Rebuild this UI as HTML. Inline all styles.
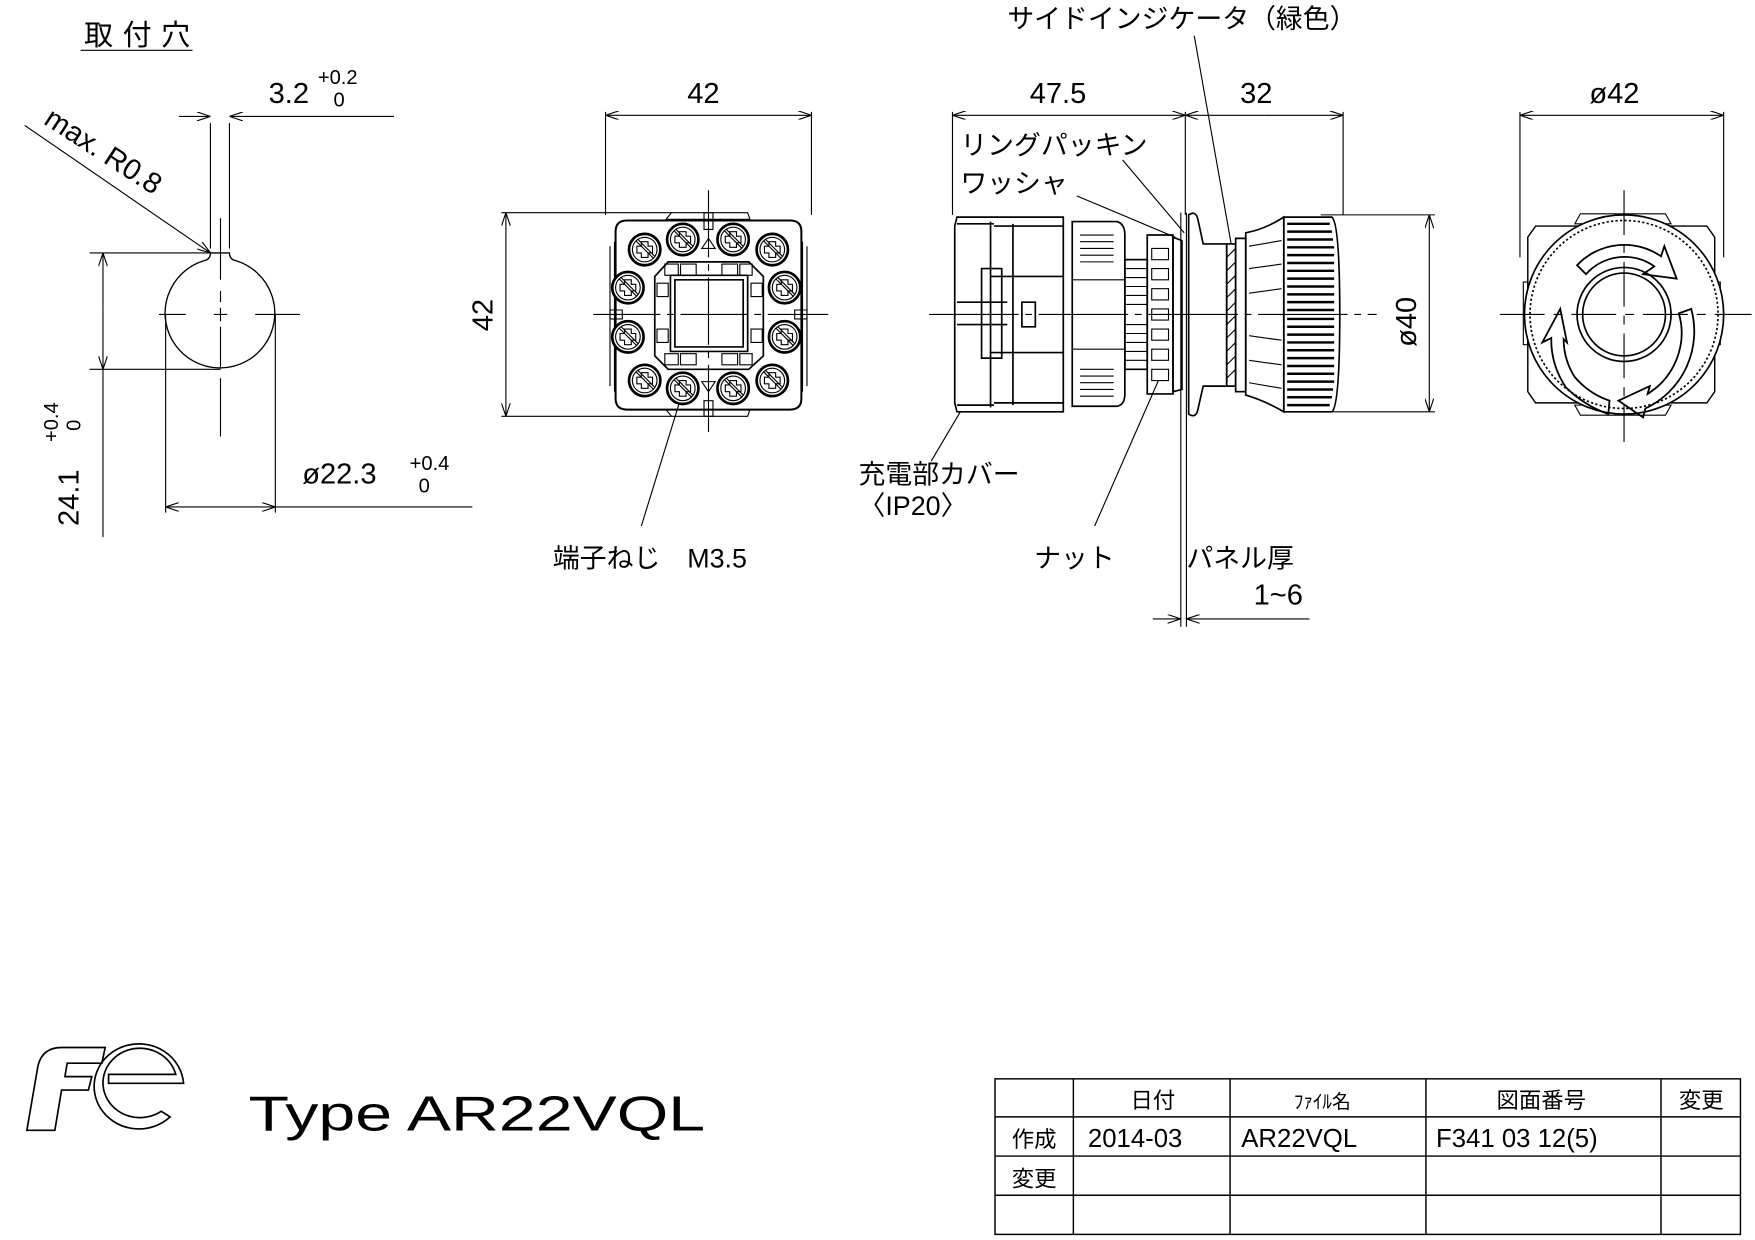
<!DOCTYPE html>
<html><head><meta charset="utf-8"><style>
html,body{margin:0;padding:0;background:#fff;}
svg{display:block}
text{font-family:"Liberation Sans","Noto Sans CJK JP",sans-serif;fill:#000;}
</style></head><body>
<svg width="1755" height="1240" viewBox="0 0 1568 1108" preserveAspectRatio="none" xmlns="http://www.w3.org/2000/svg">
<defs>
<marker id="a" viewBox="0 0 12 8" refX="12" refY="4" markerWidth="12" markerHeight="8" orient="auto-start-reverse" markerUnits="userSpaceOnUse"><path d="M0,0 L12,4 L0,8" fill="none" stroke="#000" stroke-width="1"/></marker>
<g id="scr"><circle r="14" fill="#fff" stroke="#000" stroke-width="2.4"/><circle r="11" fill="none" stroke="#000" stroke-width="1"/><path d="M-3,-7 L3,-7 L3,-3 L7,-3 L7,3 L3,3 L3,7 L-3,7 L-3,3 L-7,3 L-7,-3 L-3,-3Z" fill="none" stroke="#000" stroke-width="1"/><path d="M-8,-8 L8,8 M-6,-9 L9,6" stroke="#000" stroke-width="1"/></g>
</defs>
<g fill="none" stroke="#000" stroke-width="1">
<!-- View 1 -->
<line x1="72" y1="45" x2="172" y2="45"/>
<path d="M188,222 L188,110 M205,222 L205,110"/>
<path d="M188,226 Q188,232 182,233 A49,49 0 1 0 211,233 Q205,232 205,226 Z" stroke-width="1.2"/>
<line x1="160" y1="104" x2="188" y2="104" marker-end="url(#a)"/>
<line x1="352" y1="104" x2="205" y2="104" marker-end="url(#a)"/>
<path d="M142,281 L166,281 M191,281 L203,281 M197,275 L197,287 M228,281 L268,281 M197,195 L197,250 M197,260 L197,270 M197,292 L197,328 M197,338 L197,390"/>
<path d="M80,226 L190,226 M80,330 L197,330"/>
<line x1="92" y1="278" x2="92" y2="226" marker-end="url(#a)"/>
<line x1="92" y1="278" x2="92" y2="330" marker-end="url(#a)"/>
<line x1="92" y1="330" x2="92" y2="480"/>
<path d="M148,281 L148,458 M246,281 L246,458"/>
<line x1="197" y1="453" x2="148" y2="453" marker-end="url(#a)"/>
<line x1="197" y1="453" x2="246" y2="453" marker-end="url(#a)"/>
<line x1="246" y1="453" x2="422" y2="453"/>
<line x1="22" y1="112" x2="188" y2="226" marker-end="url(#a)"/>
</g>
<text x="75" y="40" font-size="26" textLength="95">取付穴</text>
<text x="240" y="92" font-size="26">3.2</text><text x="284" y="75" font-size="18">+0.2</text><text x="298" y="95" font-size="18">0</text>
<text x="0" y="0" font-size="26" transform="translate(38,110) rotate(33)">max. R0.8</text>
<text x="0" y="0" font-size="26" transform="translate(70,470) rotate(-90)">24.1</text>
<text x="0" y="0" font-size="18" transform="translate(52,395) rotate(-90)">+0.4</text>
<text x="0" y="0" font-size="18" transform="translate(72,385) rotate(-90)">0</text>
<text x="270" y="432" font-size="26">ø22.3</text><text x="366" y="420" font-size="18">+0.4</text><text x="374" y="440" font-size="18">0</text>

<!-- View 2 -->
<g fill="none" stroke="#000" stroke-width="1">
<path d="M541,100 L541,192 M725,100 L725,192"/>
<line x1="633" y1="103" x2="541" y2="103" marker-end="url(#a)"/>
<line x1="633" y1="103" x2="725" y2="103" marker-end="url(#a)"/>
<path d="M448,190 L600,190 M448,372 L600,372"/>
<line x1="452" y1="281" x2="452" y2="190" marker-end="url(#a)"/>
<line x1="452" y1="281" x2="452" y2="372" marker-end="url(#a)"/>
<path d="M600,190 L668,190 L670,196 L595,196 Z"/>
<path d="M600,372 L668,372 L670,366 L595,366 Z"/>
<path d="M560,197 L706,197 Q716,197 716,207 L716,356 Q716,366 706,366 L560,366 Q550,366 550,356 L550,207 Q550,197 560,197 Z" stroke-width="1.8"/>
<path d="M545,220 L545,345 M721,220 L721,345 M549,216 L549,350 M717,216 L717,350"/>
<path d="M597,234 L669,234 L682,247 L682,318 L669,330 L597,330 L585,318 L585,247 Z" stroke-width="1.5"/>
<path d="M599,246 L668,246 L668,314 L599,314 Z M603,250 L664,250 L664,310 L603,310 Z" stroke-width="1.5"/>
<path d="M633,170 L633,390 M530,281 L740,281" stroke-dasharray="60,6,6,6"/>
<path d="M629,190 L637,190 L637,205 L629,205Z M629,358 L637,358 L637,372 L629,372Z M545,277 L556,277 L556,285 L545,285Z M710,277 L721,277 L721,285 L710,285Z"/>
<path d="M633,213 L627,222 L639,222Z M633,350 L627,341 L639,341Z"/>
<path d="M594,236 L606,236 L606,246 L594,246Z M608,236 L622,236 L622,246 L608,246Z M645,236 L659,236 L659,246 L645,246Z M661,236 L672,236 L672,246 L661,246Z M587,253 L597,253 L597,265 L587,265Z M671,253 L681,253 L681,265 L671,265Z M587,294 L597,294 L597,306 L587,306Z M671,294 L681,294 L681,306 L671,306Z M594,316 L606,316 L606,326 L594,326Z M608,316 L622,316 L622,326 L608,326Z M645,316 L659,316 L659,326 L645,326Z M661,316 L672,316 L672,326 L661,326Z"/>
<line x1="610" y1="350" x2="573" y2="470"/>
</g>
<g>
<use href="#scr" x="576" y="223"/><use href="#scr" x="610" y="214"/><use href="#scr" x="655" y="214"/><use href="#scr" x="690" y="223"/>
<use href="#scr" x="561" y="257"/><use href="#scr" x="701" y="257"/><use href="#scr" x="561" y="301"/><use href="#scr" x="701" y="301"/>
<use href="#scr" x="576" y="340"/><use href="#scr" x="610" y="347"/><use href="#scr" x="655" y="347"/><use href="#scr" x="690" y="340"/>
</g>
<text x="614" y="92" font-size="26">42</text>
<text x="0" y="0" font-size="26" transform="translate(440,296) rotate(-90)">42</text>
<text x="494" y="507" font-size="24">端子ねじ　M3.5</text>

<!-- View 3 -->
<g fill="none" stroke="#000" stroke-width="1">
<path d="M851,100 L851,192 M1059,100 L1059,192 M1200,100 L1200,192"/>
<line x1="955" y1="103" x2="851" y2="103" marker-end="url(#a)"/>
<line x1="955" y1="103" x2="1059" y2="103" marker-end="url(#a)"/>
<line x1="1130" y1="103" x2="1059" y2="103" marker-end="url(#a)"/>
<line x1="1130" y1="103" x2="1200" y2="103" marker-end="url(#a)"/>
<path d="M1180,192 L1282,192 M1180,368 L1282,368"/>
<line x1="1277" y1="281" x2="1277" y2="192" marker-end="url(#a)"/>
<line x1="1277" y1="281" x2="1277" y2="368" marker-end="url(#a)"/>
<path d="M830,281 L1230,281" stroke-dasharray="80,6,6,6"/>
<g stroke-width="1.5">
<path d="M855,194 L950,194 L950,368 L855,368 L853,360 L853,202 Z"/>
<path d="M885,198 L885,364 M905,200 L905,362 M888,202 L950,202 M888,360 L950,360 M855,200 L888,200 M855,362 L888,362 M885,247 L950,247 M885,315 L950,315"/>
<path d="M877,240 L895,240 L895,320 L877,320 Z M913,270 L925,270 L925,292 L913,292 Z M855,270 L900,270 M855,290 L900,290"/>
<path d="M958,198 L998,198 Q1005,200 1005,210 L1005,352 Q1005,362 998,363 L958,363 Z"/>
<path d="M1005,232 L1025,232 L1025,330 L1005,330 Z"/>
<path d="M1025,210 L1048,210 L1048,352 L1025,352 Z"/>
<path d="M1048,212 L1056,215 L1056,348 L1048,350 Z"/>
<path d="M1062,192 Q1068,188 1070,195 L1075,218 L1096,218 L1096,345 L1075,345 L1070,367 Q1068,374 1062,370 Z"/>
<path d="M1096,218 L1104,218 L1104,345 L1096,345 Z"/>
<path d="M1104,213 L1113,213 L1113,350 L1104,350 Z"/>
<path d="M1113,208 Q1130,205 1147,194 L1147,368 Q1130,358 1113,353 Z"/>
<path d="M1147,194 L1190,194 Q1197,200 1197,281 Q1197,362 1190,368 L1147,368 Z"/>
</g>
<path d="M1055,190 L1055,560 M1060,190 L1060,560"/>
<path d="M965,210 L995,210 M965,216 L995,216 M965,222 L995,222 M965,228 L995,228 M965,234 L995,234 M965,330 L995,330 M965,336 L995,336 M965,342 L995,342 M965,348 L995,348 M965,354 L995,354 M958,250 L1005,250 M958,312 L1005,312"/>
<path d="M1005,240 L1025,240 M1005,248 L1025,248 M1005,256 L1025,256 M1005,264 L1025,264 M1005,272 L1025,272 M1005,290 L1025,290 M1005,298 L1025,298 M1005,306 L1025,306 M1005,314 L1025,314 M1005,322 L1025,322"/>
<path d="M1029,222 L1044,222 L1044,232 L1029,232 Z M1029,240 L1044,240 L1044,250 L1029,250 Z M1029,258 L1044,258 L1044,268 L1029,268 Z M1029,276 L1044,276 L1044,286 L1029,286 Z M1029,294 L1044,294 L1044,304 L1029,304 Z M1029,312 L1044,312 L1044,322 L1029,322 Z M1029,330 L1044,330 L1044,340 L1029,340 Z"/>
<path d="M1096,230 L1104,222 M1096,242 L1104,234 M1096,254 L1104,246 M1096,266 L1104,258 M1096,278 L1104,270 M1096,290 L1104,282 M1096,302 L1104,294 M1096,314 L1104,306 M1096,326 L1104,318 M1096,338 L1104,330"/>
<path d="M1116,220 L1145,215 M1116,240 L1145,236 M1116,262 L1145,258 M1116,300 L1145,304 M1116,322 L1145,326 M1116,342 L1145,347"/>
<g stroke-width="2.2"><path d="M1150,200 L1188,200 M1150,207 L1190,207 M1150,214 L1191,214 M1150,221 L1192,221 M1150,228 L1192,228 M1150,235 L1192,235 M1150,242 L1192,242 M1150,249 L1192,249 M1150,256 L1192,256 M1150,263 L1192,263 M1150,270 L1192,270 M1150,277 L1192,277 M1150,285 L1192,285 M1150,292 L1192,292 M1150,299 L1192,299 M1150,306 L1192,306 M1150,313 L1192,313 M1150,320 L1192,320 M1150,327 L1192,327 M1150,334 L1192,334 M1150,341 L1192,341 M1150,348 L1191,348 M1150,355 L1190,355 M1150,362 L1188,362"/></g>
<path d="M1067,32 L1100,218 M1003,143 L1058,208 M962,175 L1050,212 M858,368 L832,412 M1035,340 L978,470"/>
<line x1="1030" y1="553" x2="1055" y2="553" marker-end="url(#a)"/>
<line x1="1170" y1="553" x2="1060" y2="553" marker-end="url(#a)"/>
</g>
<text x="900" y="25" font-size="24">サイドインジケータ（緑色）</text>
<text x="920" y="92" font-size="26">47.5</text>
<text x="1108" y="92" font-size="26">32</text>
<text x="858" y="138" font-size="24">リングパッキン</text>
<text x="858" y="172" font-size="24">ワッシャ</text>
<text x="0" y="0" font-size="26" transform="translate(1265,310) rotate(-90)">ø40</text>
<text x="767" y="432" font-size="24">充電部カバー</text>
<text x="767" y="460" font-size="24">〈IP20〉</text>
<text x="924" y="507" font-size="24">ナット</text>
<text x="1060" y="507" font-size="24">パネル厚</text>
<text x="1120" y="540" font-size="26">1~6</text>

<!-- View 4 -->
<g fill="none" stroke="#000" stroke-width="1">
<path d="M1358,100 L1358,230 M1540,100 L1540,230"/>
<line x1="1449" y1="103" x2="1358" y2="103" marker-end="url(#a)"/>
<line x1="1449" y1="103" x2="1540" y2="103" marker-end="url(#a)"/>
<path d="M1412,191 L1488,191 L1493,200 L1407,200 Z M1412,371 L1488,371 L1493,362 L1407,362 Z"/>
<path d="M1372,202 L1525,202 L1532,212 L1532,350 L1525,360 L1372,360 L1365,350 L1365,212 Z" stroke-width="1.3"/>
<path d="M1361,252 L1365,252 L1365,308 L1361,308 Z M1532,252 L1537,252 L1537,308 L1532,308 Z"/>
<circle cx="1451" cy="281" r="89" fill="#fff" stroke-width="1.5"/>
<circle cx="1451" cy="281" r="84" stroke-dasharray="2,2" stroke-width="1.5"/>
<circle cx="1451" cy="281" r="42" stroke-width="1.5"/>
<circle cx="1451" cy="281" r="37" stroke-width="1.5"/>
<path d="M1340,281 L1565,281 M1451,170 L1451,395" stroke-dasharray="40,8,8,8"/>
<g stroke-width="1.6">
<path d="M1409,237 A58,58 0 0 1 1484,229 L1487,220 L1498,249 L1468,245 L1478,238 A46,46 0 0 0 1417,245 Z"/>
<path d="M1399,346 A76,76 0 0 1 1386,302 L1378,306 L1394,276 L1400,306 L1397,303 A64,64 0 0 0 1407,337 Q1420,352 1438,358 L1437,370 Q1415,362 1399,346 Z"/>
<path d="M1511,276 A76,76 0 0 1 1470,365 L1468,373 L1446,358 L1474,345 L1472,352 A64,64 0 0 0 1500,280 Z"/>
</g>
</g>
<text x="1420" y="92" font-size="26">ø42</text>

<!-- Logo -->
<g fill="none" stroke="#000" stroke-width="1.5">
<path d="M24,1010 L34,952 Q38,936 55,936 L94,936 L91,950 L60,950 L58,962 L82,962 L79,974 L55,974 L49,1010 Z"/>
<path d="M152,998 A40,38 0 1 1 164,968 L97,968 L97,960 L157,960 A33,31 0 1 0 144,993 Z"/>
</g>
<text x="222" y="1010" font-size="44" textLength="408" lengthAdjust="spacingAndGlyphs" style="font-weight:100">Type AR22VQL</text>

<!-- Table -->
<g fill="none" stroke="#000" stroke-width="1.3">
<rect x="889" y="964" width="666" height="139"/>
<path d="M889,998 L1555,998 M889,1033 L1555,1033 M889,1068 L1555,1068 M959,964 L959,1103 M1099,964 L1099,1103 M1274,964 L1274,1103 M1484,964 L1484,1103"/>
</g>
<g font-size="20">
<text x="1010" y="990">日付</text>
<text x="1156" y="990" font-size="17">ﾌｧｲﾙ名</text>
<text x="1337" y="990">図面番号</text>
<text x="1500" y="990">変更</text>
<text x="904" y="1025">作成</text>
<text x="972" y="1025" font-size="23">2014-03</text>
<text x="1109" y="1025" font-size="23">AR22VQL</text>
<text x="1283" y="1025" font-size="23">F341 03 12(5)</text>
<text x="904" y="1060">変更</text>
</g>
</svg>
</body></html>
